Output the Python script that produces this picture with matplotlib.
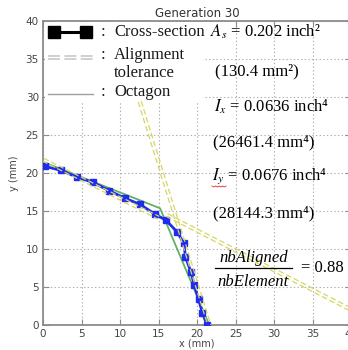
import numpy as np
import matplotlib
matplotlib.use("Agg")
import matplotlib.pyplot as plt
from matplotlib.patches import Rectangle
from matplotlib.transforms import offset_copy

plt.rcParams['mathtext.fontset'] = 'stix'
plt.rcParams['lines.scale_dashes'] = False

# ---- data ----
cs_x = [0.3, 2.3, 4.4, 6.5, 8.6, 10.7, 12.6, 14.6, 16.0, 17.4, 18.3, 18.5, 19.2, 19.65, 20.2, 20.7, 21.3]
cs_y = [20.9, 20.4, 19.5, 18.8, 17.7, 16.7, 15.9, 14.6, 13.8, 12.3, 10.8, 9.0, 7.05, 5.3, 3.4, 1.66, 0.0]
oct_x = [0.0, 15.2, 21.6]
oct_y = [21.5, 15.4, 0.0]
tol_x = [[9.35, 21.6], [16.1, 40.5], [0.0, 15.0]]
tol_y = [[39.9, 0.0], [14.5, 1.8], [21.8, 14.15]]
xticks = [0, 5, 10, 15, 20, 25, 30, 35, 40]
yticks = [0, 5, 10, 15, 20, 25, 30, 35, 40]

W, H = 348, 350
fig = plt.figure(figsize=(W / 100, H / 100), dpi=100)
ax = fig.add_axes([43 / W, 24.7 / H, 308 / W, 304 / H])
ax.set_xlim(0, 40)
ax.set_ylim(0, 40)
ax.set_xticks(xticks)
ax.set_yticks(yticks)
ax.grid(True, linestyle=':', color='#b0b0b0', linewidth=0.8)
ax.set_axisbelow(True)
for s in ax.spines.values():
    s.set_color('#8c8c8c')
    s.set_linewidth(1.3)
ax.tick_params(direction='in', length=4, color='#8c8c8c', labelsize=7.5,
               labelcolor='#444444', top=True, right=True, pad=3)
ax.set_xlabel('x (mm)', fontsize=7, color='#444444', va='center')
ax.xaxis.set_label_coords((197 - 43) / 308, -(343 - 325.3) / 304)
ax.set_ylabel('y (mm)', fontsize=7, color='#444444', va='center')
ax.yaxis.set_label_coords(-(43 - 14) / 308, 0.5)
ax.set_title('Generation 30', fontsize=8.5, color='#333333', pad=3)

ax.plot(oct_x, oct_y, color='#62b062', lw=1.3, zorder=2)
ax.plot(cs_x, cs_y, color='#1f2cf0', lw=2.0, marker='s', ms=4.5, zorder=3)

# tolerance double dashed lines
for tx, ty in zip(tol_x, tol_y):
    d = np.array([tx[1] - tx[0], ty[1] - ty[0]], float)
    d /= np.hypot(*d)
    n = np.array([-d[1], d[0]])
    for sgn in (-1, 1):
        tr = offset_copy(ax.transData, fig=fig, x=sgn * 1.1 * n[0], y=sgn * 1.1 * n[1], units='points')
        ax.plot(tx, ty, color='#d6d664', lw=0.9, linestyle=(0, (4, 2)), transform=tr, zorder=4)

# ---- overlay in pixel coords ----
ov = fig.add_axes([0, 0, 1, 1])
ov.set_xlim(0, W)
ov.set_ylim(H, 0)
ov.axis('off')
ov.patch.set_alpha(0)

ov.add_patch(Rectangle((44.5, 22), 160, 79, facecolor='white', edgecolor='none', zorder=1))
# legend entries
ov.plot([50, 90], [32, 32], color='black', lw=2.2, zorder=2)
ov.plot([54, 86], [32, 32], color='black', lw=0, marker='s', ms=8.5, zorder=2)
for yy in (55.8, 59.2):
    ov.plot([48, 93], [yy, yy], color='#c4c4c4', lw=1.1, linestyle=(0, (8.6, 3.2)), zorder=2)
ov.plot([48, 93], [93.5, 93.5], color='#a0a0a0', lw=1.0, zorder=2)

serif = 'Liberation Serif'
fs = 12
tc = '#1a1a1a'
def t(x, y, s, **kw):
    kw.setdefault('color', tc)
    kw.setdefault('ha', 'left')
    ov.text(x, y, s, fontsize=fs, family=serif, va='center', zorder=3, **kw)

t(101, 32, ':')
t(114, 32, 'Cross-section')
t(101, 55, ':')
t(114, 55, 'Alignment')
t(114, 73, 'tolerance')
t(101, 92, ':')
t(114, 92, 'Octagon')

t(210, 32, r'$A_s$ = 0.202 inch²', color='black')
t(215, 71, '(130.4 mm²)', color='black')
t(214, 107, r'$I_x$ = 0.0636 inch⁴', color='black')
t(213, 142, '(26461.4 mm⁴)', color='black')
t(212, 176, r'$I_y$ = 0.0676 inch⁴', color='black')
t(213, 213, '(28144.3 mm⁴)', color='black')
# red spell-check squiggle
sq_x = np.linspace(212, 226, 9)
sq_y = 186 + np.array([0, 1, 0, 1, 0, 1, 0, 1, 0])
ov.plot(sq_x, sq_y, color='#e03030', lw=0.6, zorder=3)

t(253.5, 258, 'nbAligned', style='italic', color='black', ha='center')
ov.plot([215, 292], [268, 268], color='black', lw=0.9, zorder=3)
t(253.5, 282, 'nbElement', style='italic', color='black', ha='center')
t(301, 268, '= 0.88', color='black')

fig.savefig('out.png', dpi=100)
